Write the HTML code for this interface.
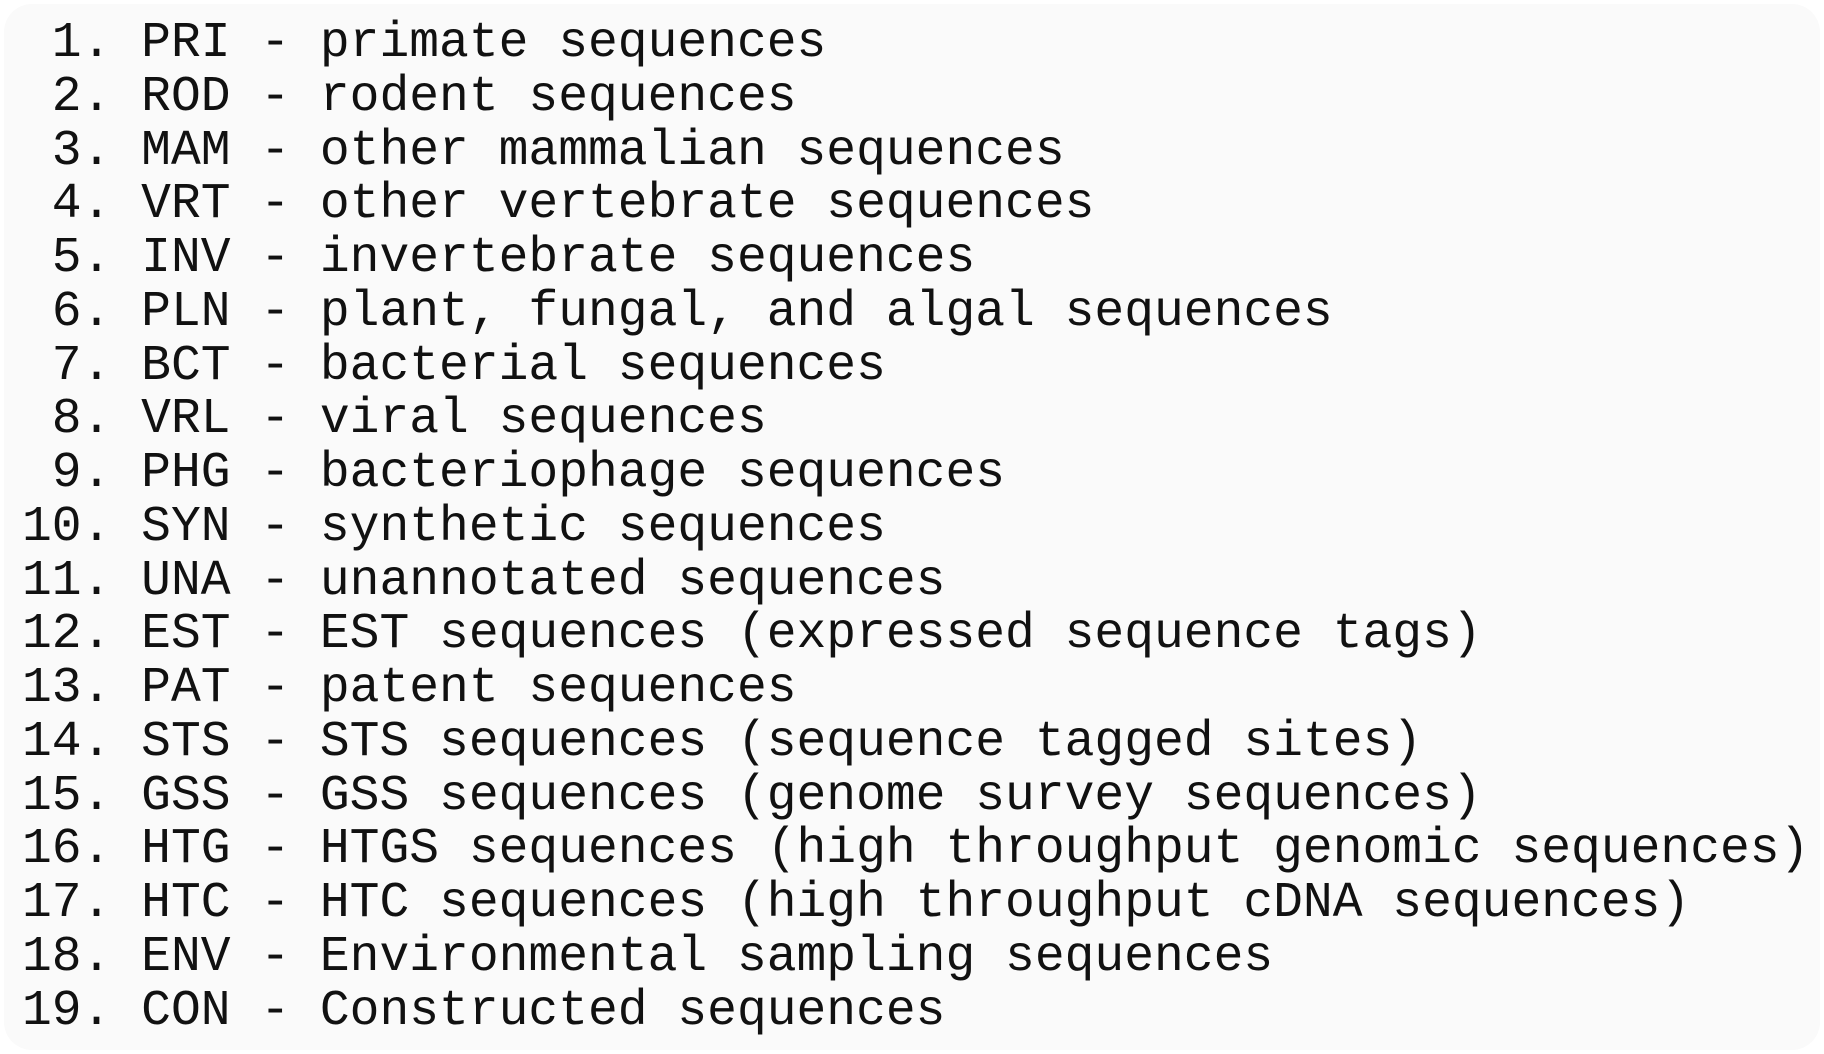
<!DOCTYPE html>
<html><head><meta charset="utf-8"><style>
html,body{margin:0;padding:0;background:#fff;}
body{width:1824px;height:1054px;overflow:hidden;position:relative;}
.card{position:absolute;left:4px;top:4px;width:1816px;height:1046px;background:#fafafa;border-radius:28px;}
pre{position:absolute;left:22px;top:17px;margin:0;font-family:"Liberation Mono","Courier New",monospace;font-size:49.65px;line-height:53.75px;color:#111;letter-spacing:0;}
</style></head><body>
<div class="card"></div>
<pre> 1. PRI - primate sequences
 2. ROD - rodent sequences
 3. MAM - other mammalian sequences
 4. VRT - other vertebrate sequences
 5. INV - invertebrate sequences
 6. PLN - plant, fungal, and algal sequences
 7. BCT - bacterial sequences
 8. VRL - viral sequences
 9. PHG - bacteriophage sequences
10. SYN - synthetic sequences
11. UNA - unannotated sequences
12. EST - EST sequences (expressed sequence tags)
13. PAT - patent sequences
14. STS - STS sequences (sequence tagged sites)
15. GSS - GSS sequences (genome survey sequences)
16. HTG - HTGS sequences (high throughput genomic sequences)
17. HTC - HTC sequences (high throughput cDNA sequences)
18. ENV - Environmental sampling sequences
19. CON - Constructed sequences</pre>
</body></html>
